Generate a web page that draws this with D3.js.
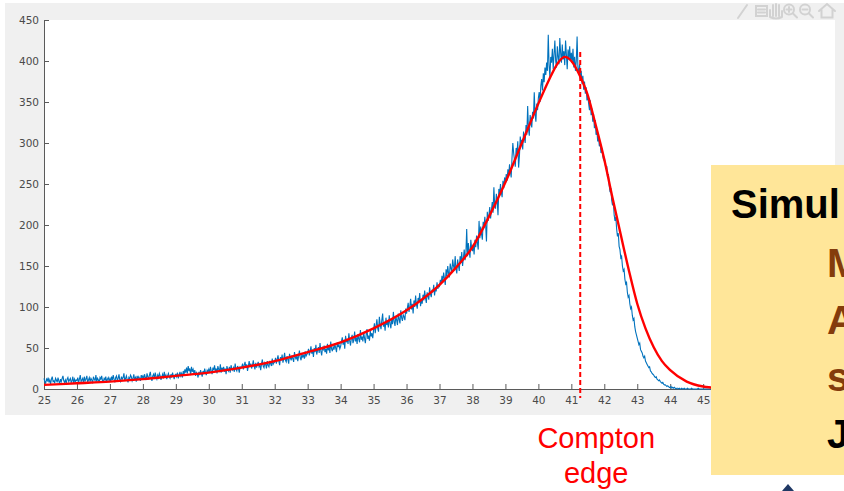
<!DOCTYPE html>
<html>
<head>
<meta charset="utf-8">
<script src="https://cdn.jsdelivr.net/npm/d3@7"></script>
<style>
  body { margin: 0; background: #fff; }
  svg { display: block; }
</style>
</head>
<body>
<div id="chart"></div>
<script>
// tick labels (46..49 sit under the overlay box, so only the visible ones)
var xTicks = [25, 26, 27, 28, 29, 30, 31, 32, 33, 34, 35, 36, 37, 38, 39, 40, 41, 42, 43, 44, 45];
var yTicks = [0, 50, 100, 150, 200, 250, 300, 350, 400, 450];

// measured histogram (counts per bin), bins start at 25, width 0.025
var binStart = 25,
    binWidth = 0.025;
var counts = [
  // 25
  13, 9, 7, 12, 10, 14, 8, 11, 6, 12, 15, 9, 10, 7, 13, 11, 8, 14, 10, 6,
  12, 9, 13, 16, 10, 8, 11, 7, 12, 14, 9, 11, 13, 8, 10, 15, 7, 12, 9, 11,
  // 26
  10, 14, 8, 12, 17, 9, 11, 13, 7, 15, 10, 12, 16, 8, 11, 14, 9, 13, 11, 7,
  15, 12, 10, 17, 9, 13, 11, 8, 14, 12, 16, 10, 9, 13, 11, 15, 8, 12, 14, 10,
  // 27
  13, 9, 15, 11, 17, 12, 8, 14, 16, 10, 13, 18, 11, 9, 15, 12, 14, 19, 10, 13,
  16, 11, 8, 14, 12, 17, 15, 10, 13, 18, 11, 14, 9, 16, 12, 15, 13, 10, 17, 14,
  // 28
  16, 12, 18, 14, 11, 19, 15, 13, 17, 21, 14, 10, 16, 18, 13, 20, 15, 12, 17, 14,
  19, 16, 11, 15, 18, 13, 21, 14, 17, 12, 16, 19, 15, 13, 18, 14, 20, 16, 12, 17,
  // 29
  18, 15, 20, 13, 17, 21, 16, 19, 14, 22, 18, 24, 20, 26, 19, 28, 22, 25, 17, 27,
  21, 24, 19, 23, 16, 20, 18, 14, 21, 17, 23, 19, 15, 22, 18, 25, 20, 17, 23, 21,
  // 30
  24, 20, 27, 22, 18, 26, 23, 29, 21, 25, 19, 28, 24, 22, 30, 20, 26, 23, 27, 21,
  25, 18, 28, 24, 22, 27, 20, 29, 25, 23, 26, 21, 31, 24, 22, 28, 25, 20, 27, 26,
  // 31
  27, 31, 24, 29, 33, 26, 30, 22, 28, 34, 27, 31, 25, 29, 35, 28, 24, 32, 26, 30,
  33, 27, 29, 23, 31, 36, 28, 26, 32, 30, 25, 34, 29, 27, 33, 31, 28, 37, 30, 32,
  // 32
  33, 38, 31, 36, 41, 34, 29, 39, 35, 42, 32, 37, 44, 35, 33, 40, 36, 31, 43, 38,
  35, 41, 37, 33, 45, 39, 36, 42, 34, 40, 47, 38, 35, 43, 39, 41, 37, 46, 40, 42,
  // 33
  44, 49, 41, 46, 52, 43, 48, 39, 50, 45, 54, 42, 47, 51, 44, 56, 46, 41, 50, 48,
  53, 45, 49, 43, 55, 47, 51, 44, 58, 49, 46, 52, 48, 55, 50, 45, 57, 51, 54, 49,
  // 34
  52, 58, 63, 54, 60, 49, 65, 57, 61, 55, 68, 59, 53, 62, 66, 56, 60, 70, 58, 63,
  55, 67, 61, 57, 72, 60, 64, 58, 69, 62, 56, 66, 73, 61, 65, 59, 71, 64, 68, 62,
  // 35
  72, 80, 68, 77, 85, 74, 70, 88, 79, 73, 84, 92, 76, 81, 71, 87, 78, 83, 75, 90,
  80, 74, 86, 79, 94, 82, 77, 89, 84, 78, 92, 85, 80, 96, 87, 83, 91, 88, 84, 98,
  // 36
  92, 99, 105, 94, 101, 110, 97, 104, 92, 108, 100, 114, 103, 98, 111, 106, 117, 101, 109, 104,
  115, 108, 120, 111, 105, 118, 113, 109, 124, 116, 112, 121, 118, 127, 114, 123, 119, 130, 122, 126,
  // 37
  125, 133, 128, 138, 130, 142, 135, 127, 146, 138, 150, 141, 136, 153, 147, 143, 158, 150, 145, 162,
  147, 141, 158, 150, 144, 162, 154, 167, 150, 160, 170, 157, 164, 195, 162, 178, 168, 160, 182, 172,
  // 38
  168, 176, 164, 182, 173, 187, 178, 170, 205, 184, 198, 189, 182, 204, 196, 210, 200, 180, 216, 205,
  212, 222, 208, 218, 228, 215, 246, 224, 220, 238, 230, 212, 244, 236, 250, 240, 234, 254, 245, 258,
  // 39
  250, 262, 254, 268, 260, 274, 266, 258, 282, 300, 288, 279, 271, 294, 286, 302, 270, 284, 308, 298,
  304, 292, 314, 306, 300, 322, 310, 345, 317, 309, 334, 325, 319, 338, 330, 362, 335, 326, 348, 340,
  // 40
  355, 362, 350, 370, 378, 364, 385, 374, 392, 383, 398, 388, 432, 395, 380, 405, 398, 415, 390, 408,
  425, 400, 392, 418, 405, 396, 428, 410, 398, 420, 402, 412, 395, 425, 408, 390, 414, 402, 418, 400,
  // 41
  410, 398, 415, 392, 405, 388, 400, 430, 392, 384, 396, 378, 388, 372, 382, 365, 375, 360, 368, 352,
  358, 348, 340, 352, 334, 342, 326, 335, 318, 328, 310, 316, 302, 308, 296, 300, 288, 294, 285, 280,
  // 42
  283, 275, 268, 272, 258, 262, 248, 240, 245, 230, 224, 228, 212, 205, 210, 195, 186, 190, 174, 170,
  160, 162, 150, 144, 146, 134, 128, 130, 118, 112, 114, 104, 98, 100, 90, 84, 86, 76, 70, 66,
  // 43
  62, 58, 54, 56, 48, 46, 44, 40, 38, 40, 34, 32, 30, 28, 26, 27, 22, 21, 19, 18,
  17, 15, 14, 15, 12, 11, 10, 11, 9, 8, 7, 8, 6, 5, 5, 4, 3, 4, 3, 2,
  // 44
  2, 3, 1, 2, 1, 2, 1, 0, 1, 1, 0, 1, 0, 0, 1, 0, 0, 1, 0, 0,
  0, 1, 0, 0, 0, 0, 1, 0, 0, 0, 0, 0, 0, 0, 1, 0, 0, 0, 0, 0,
  // 45
  0, 0, 0, 0, 0, 0, 0, 0, 0, 0, 0, 0, 0, 0, 0, 0, 0, 0, 0, 0,
  0, 0, 0, 0, 0, 0, 0, 0, 0, 0, 0, 0, 0, 0, 0, 0, 0, 0, 0, 0
];

// fitted curve
var fitX = [25, 26, 27, 28, 29, 30, 31, 32, 33, 34, 35, 36, 37, 37.5, 38, 38.5, 39, 39.5, 40, 40.3, 40.6, 40.8, 41, 41.27, 41.5, 41.7, 42, 42.25, 42.5, 42.75, 43, 43.25, 43.5, 43.75, 44, 44.5, 45, 45.5, 46, 47, 48, 49];
var fitY = [5, 7, 9, 12, 16, 20, 26, 34, 45, 57, 74, 96, 127, 148, 173, 210, 252, 300, 348, 375, 398, 405, 400, 381, 358, 328, 280, 233, 188, 144, 104, 74, 51, 34, 23, 9, 3, 1, 0.3, 0, 0, 0];

// compton edge marker
var edgeX = 41.27,
    edgeTop = 411;
var edgeLabel = ["Compton", "edge"];

// slide overlay text
var boxTitle = "Simul";
var boxLetters = ["M", "A", "s", "J"];
var boxColors = ["#843c0c", "#843c0c", "#843c0c", "#000"];

var width = 844,
    height = 491;

var svg = d3.select("#chart").append("svg")
    .attr("width", width)
    .attr("height", height);

var x = d3.scaleLinear()
    .domain([25, 49])
    .range([44, 835]);

var y = d3.scaleLinear()
    .domain([0, 450])
    .range([389, 20]);

// figure background
svg.append("rect")
    .attr("x", 5).attr("y", 3)
    .attr("width", 839).attr("height", 412)
    .attr("fill", "#f0f0f0");

// faint toolbar icons
var tb = svg.append("g")
    .attr("fill", "none")
    .attr("stroke", "#d2d2d2")
    .attr("stroke-width", 2)
    .attr("stroke-linecap", "round");
tb.append("path").attr("d", "M738,18 L747,5");
tb.append("path").attr("d", "M756,6 h11 v10 h-11 z M758,9.5 h7 M758,12.5 h7");
tb.append("path").attr("d", "M770,17 v-7 M773,16 v-11 M776,16 v-12 M779,16 v-11 M782,17 v-6 M770,17 q6,3 12,0");
tb.append("circle").attr("cx", 789).attr("cy", 9.5).attr("r", 5);
tb.append("path").attr("d", "M793,13.5 l4,4 M786.5,9.5 h5 M789,7 v5");
tb.append("circle").attr("cx", 805).attr("cy", 9.5).attr("r", 5);
tb.append("path").attr("d", "M809,13.5 l4,4 M802.5,9.5 h5");
tb.append("path").attr("d", "M819,11 l8,-7 l8,7 M821.5,9.5 v8 h11 v-8");

// axes area
svg.append("rect")
    .attr("x", x(25)).attr("y", y(450))
    .attr("width", x(49) - x(25)).attr("height", y(0) - y(450))
    .attr("fill", "#fff");

var xAxis = d3.axisBottom(x)
    .tickValues(xTicks)
    .tickFormat(d3.format("d"))
    .tickSizeInner(-5)
    .tickSizeOuter(0)
    .tickPadding(8);

var yAxis = d3.axisLeft(y)
    .tickValues(yTicks)
    .tickFormat(d3.format("d"))
    .tickSizeInner(-5)
    .tickSizeOuter(0)
    .tickPadding(5);

var gx = svg.append("g")
    .attr("transform", "translate(0," + y(0) + ")")
    .call(xAxis);

var gy = svg.append("g")
    .attr("transform", "translate(" + x(25) + ",0)")
    .call(yAxis);

[gx, gy].forEach(function(g) {
    g.selectAll("path, line").attr("stroke", "#5a5a5a");
    g.selectAll("text")
        .attr("fill", "#4a4a4a")
        .attr("font-family", "DejaVu Sans")
        .attr("font-size", 10.5);
});

// histogram line
var dataLine = d3.line()
    .x(function(d, i) { return x(binStart + i * binWidth); })
    .y(function(d) { return y(d); });

svg.append("path")
    .datum(counts)
    .attr("d", dataLine)
    .attr("fill", "none")
    .attr("stroke", "#0072bd")
    .attr("stroke-width", 1.1);

// fit
var fitLine = d3.line()
    .x(function(d, i) { return x(fitX[i]); })
    .y(function(d) { return y(d); })
    .curve(d3.curveMonotoneX);

svg.append("path")
    .datum(fitY)
    .attr("d", fitLine)
    .attr("fill", "none")
    .attr("stroke", "#ff0000")
    .attr("stroke-width", 2.4);

// compton edge dashed line
svg.append("line")
    .attr("x1", x(edgeX)).attr("x2", x(edgeX))
    .attr("y1", y(edgeTop)).attr("y2", y(0) + 9)
    .attr("stroke", "#ff0000")
    .attr("stroke-width", 2)
    .attr("stroke-dasharray", "5,3");

svg.selectAll(".edge-label")
    .data(edgeLabel).enter()
    .append("text")
    .attr("class", "edge-label")
    .attr("x", x(edgeX) + 16)
    .attr("y", function(d, i) { return 448 + i * 35; })
    .attr("text-anchor", "middle")
    .attr("font-family", "Liberation Sans, Arial, sans-serif")
    .attr("font-size", 29)
    .attr("fill", "#ff0000")
    .text(function(d) { return d; });

// overlay box from the slide
svg.append("rect")
    .attr("x", 711).attr("y", 165)
    .attr("width", 140).attr("height", 310)
    .attr("fill", "#ffe699");

svg.append("text")
    .attr("x", 731).attr("y", 218)
    .attr("font-family", "Liberation Sans, Arial, sans-serif")
    .attr("font-weight", "bold")
    .attr("font-size", 40)
    .attr("fill", "#000")
    .text(boxTitle);

svg.selectAll(".box-letter")
    .data(boxLetters).enter()
    .append("text")
    .attr("class", "box-letter")
    .attr("x", 827)
    .attr("y", function(d, i) { return 277 + i * 57; })
    .attr("font-family", "Liberation Sans, Arial, sans-serif")
    .attr("font-weight", "bold")
    .attr("font-size", 40)
    .attr("fill", function(d, i) { return boxColors[i]; })
    .text(function(d) { return d; });

// small arrow tip below the box
svg.append("path")
    .attr("d", "M782,491 L788,484 L794,491 Z")
    .attr("fill", "#1f3864");
</script>
</body>
</html>
